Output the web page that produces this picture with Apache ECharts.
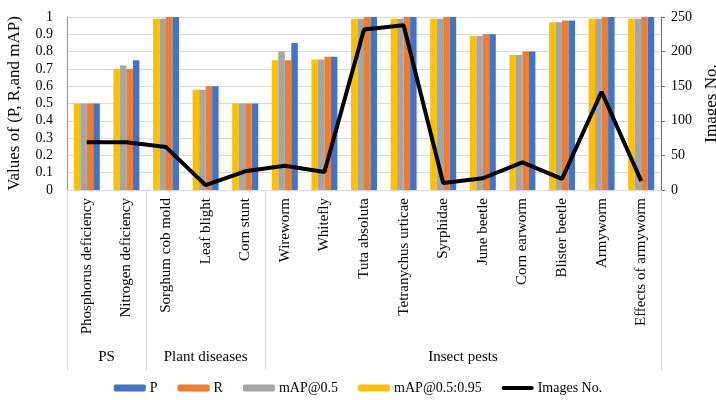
<!DOCTYPE html>
<html>
<head>
<meta charset="utf-8">
<script src="https://cdn.jsdelivr.net/npm/echarts@6/dist/echarts.min.js"></script>
<style>html,body{margin:0;padding:0;background:#fff}#c{width:716px;height:400px}</style>
</head>
<body>
<div id="c"></div>
<script>
const categories = ['Phosphorus deficiency','Nitrogen deficiency','Sorghum cob mold','Leaf blight','Corn stunt','Wireworm','Whitefly','Tuta absoluta','Tetranychus urticae','Syrphidae','June beetle','Corn earworm','Blister beetle','Armyworm','Effects of armyworm'];
const groupNames = ['PS','Plant diseases','Insect pests'];
const groupSizes = [2,3,10];
const P = [0.50,0.75,1.00,0.60,0.50,0.85,0.77,1.00,1.00,1.00,0.90,0.80,0.98,1.00,1.00];
const R = [0.50,0.70,1.00,0.60,0.50,0.75,0.77,1.00,1.00,1.00,0.90,0.80,0.98,1.00,1.00];
const mAP50 = [0.50,0.72,0.99,0.58,0.50,0.80,0.755,0.99,0.99,0.99,0.89,0.78,0.97,0.99,0.99];
const mAP5095 = [0.50,0.70,0.99,0.58,0.50,0.75,0.755,0.99,0.99,0.99,0.89,0.78,0.97,0.99,0.99];
const imagesNo = [69,69,62,7,27,35,26,232,238,10,17,40,16,142,13];

// group boundaries and centers
const bounds = [0]; groupSizes.forEach(s => bounds.push(bounds[bounds.length-1] + s));
const centers = groupSizes.map((s,i) => bounds[i] + s/2);
const centerName = {}; centers.forEach((c,i) => centerName[c] = groupNames[i]);

const font = 'Liberation Serif';
const txt = {fontFamily: font, color: '#000'};
const chart = echarts.init(document.getElementById('c'));
chart.setOption({
  animation: false,
  textStyle: {fontFamily: font},
  grid: {left: 67, right: 55, top: 17, bottom: 210, containLabel: false, outerBoundsMode: 'none'},
  legend: {
    top: 376, left: 'center', itemWidth: 32, itemHeight: 7, itemGap: 20,
    textStyle: Object.assign({fontSize: 14, padding: [0,0,0,-1]}, txt),
    data: ['P','R','mAP@0.5','mAP@0.5:0.95',
      {name: 'Images No.', icon: 'path://M2,0 L30,0 Q32,0 32,2 Q32,4 30,4 L2,4 Q0,4 0,2 Q0,0 2,0 Z', itemStyle: {color: '#000'}}]
  },
  xAxis: [{
    type: 'category', data: categories,
    axisLine: {lineStyle: {color: '#d9d9d9'}},
    axisTick: {show: false},
    axisLabel: Object.assign({rotate: 90, fontSize: 15, margin: 8, interval: 0}, txt)
  }, {
    type: 'value', position: 'bottom', min: 0, max: categories.length,
    axisLine: {show: false}, splitLine: {show: false},
    axisTick: {show: true, customValues: bounds, length: 180, lineStyle: {color: '#d9d9d9'}},
    axisLabel: Object.assign({customValues: centers, fontSize: 15, margin: 160,
      formatter: v => centerName[v] || ''}, txt)
  }],
  yAxis: [{
    type: 'value', min: 0, max: 1, interval: 0.1,
    name: 'Values of (P, R,and mAP)', nameLocation: 'middle', nameGap: 44, nameRotate: 90,
    nameTextStyle: Object.assign({fontSize: 17}, txt),
    axisLine: {show: true, lineStyle: {color: '#6f9ad6'}},
    axisTick: {show: false},
    splitLine: {lineStyle: {color: '#d9d9d9'}},
    axisLabel: Object.assign({fontSize: 14, margin: 14, formatter: v => String(Math.round(v*10)/10)}, txt)
  }, {
    type: 'value', min: 0, max: 250, interval: 50, position: 'right',
    name: 'Images No.', nameLocation: 'middle', nameGap: 39, nameRotate: 90,
    nameTextStyle: Object.assign({fontSize: 17}, txt),
    axisLine: {show: true, lineStyle: {color: '#4472c4'}},
    axisTick: {show: true, length: 4, lineStyle: {color: '#4472c4'}},
    splitLine: {show: false},
    axisLabel: Object.assign({fontSize: 14, margin: 10}, txt)
  }],
  series: [
    {name: 'mAP@0.5:0.95', type: 'bar', data: mAP5095, barWidth: 6.5, barGap: '0%', itemStyle: {color: '#ffc000'}},
    {name: 'mAP@0.5', type: 'bar', data: mAP50, barWidth: 6.5, barGap: '0%', itemStyle: {color: '#a5a5a5'}},
    {name: 'R', type: 'bar', data: R, barWidth: 6.5, barGap: '0%', itemStyle: {color: '#ed7d31'}},
    {name: 'P', type: 'bar', data: P, barWidth: 6.5, barGap: '0%', itemStyle: {color: '#4472c4'}},
    {name: 'Images No.', type: 'line', yAxisIndex: 1, data: imagesNo, symbol: 'none',
      lineStyle: {color: '#000', width: 4}, itemStyle: {color: '#000'}, z: 5}
  ]
});
</script>
</body>
</html>
